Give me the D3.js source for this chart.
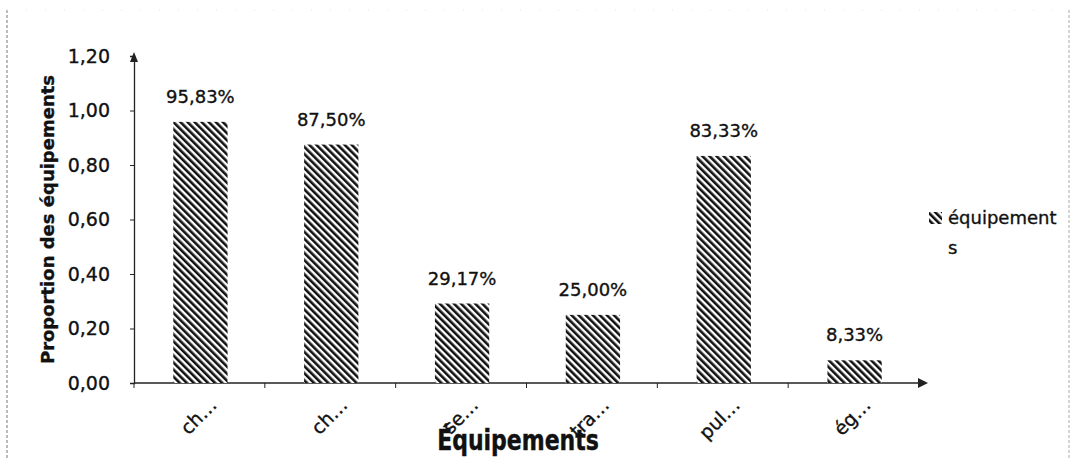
<!DOCTYPE html>
<html>
<head>
<meta charset="utf-8">
<script src="https://cdn.jsdelivr.net/npm/d3@7"></script>
<style>
  html, body { margin: 0; padding: 0; background: #fff; }
  svg { display: block; }
  text { font-family: "DejaVu Sans", sans-serif; fill: #111; stroke: #111; stroke-width: 0.35px; }
</style>
</head>
<body>
<svg id="chart" width="1071" height="459"></svg>
<script>
// ---- data ----
const categories = ["ch…", "ch…", "se…", "tra…", "pul…", "ég…"];
const values = [0.9583, 0.8750, 0.2917, 0.2500, 0.8333, 0.0833];
const valueLabels = ["95,83%", "87,50%", "29,17%", "25,00%", "83,33%", "8,33%"];
const yTicks = [0, 0.2, 0.4, 0.6, 0.8, 1.0, 1.2];
const seriesName = ["équipement", "s"];
const yTitle = "Proportion des équipements";
const xTitle = "Équipements";

const svg = d3.select("#chart");
const W = 1071, H = 459;

// frame (faint scanned border)
svg.append("line").attr("x1", 7).attr("x2", 7).attr("y1", 10).attr("y2", H)
  .attr("stroke", "#777").attr("stroke-width", 1).attr("stroke-dasharray", "3,2");
svg.append("line").attr("x1", 1069).attr("x2", 1069).attr("y1", 10).attr("y2", H)
  .attr("stroke", "#aaa").attr("stroke-width", 1).attr("stroke-dasharray", "3,2");
svg.append("line").attr("x1", 7).attr("x2", 1069).attr("y1", 10).attr("y2", 10)
  .attr("stroke", "#e4e4e4").attr("stroke-width", 1).attr("stroke-dasharray", "1,18");

// hatch pattern
const defs = svg.append("defs");
const pat = defs.append("pattern").attr("id", "hatch")
  .attr("patternUnits", "userSpaceOnUse").attr("width", 5).attr("height", 5)
  .attr("patternTransform", "rotate(-45)");
pat.append("rect").attr("width", 5).attr("height", 5).attr("fill", "#fff");
pat.append("rect").attr("x", 0).attr("width", 2.6).attr("height", 5).attr("fill", "#111");

// scales
const x = d3.scaleBand().domain(d3.range(categories.length))
  .range([135, 920]).paddingInner(0.585).paddingOuter(0.2925);
const y = d3.scaleLinear().domain([0, 1.2]).range([383, 56]);

// y axis
const fmt = d => d3.format(".2f")(d).replace(".", ",");
const yAxis = svg.append("g").attr("transform", "translate(134,0)")
  .call(d3.axisLeft(y).tickValues(yTicks).tickFormat(fmt).tickSize(4).tickPadding(20));
yAxis.select(".domain").attr("stroke", "#222").attr("stroke-width", 1.3);
yAxis.selectAll(".tick line").attr("stroke", "#222");
yAxis.selectAll(".tick text").style("font-size", "19px").attr("fill", "#111")
  .style("font-family", "DejaVu Sans");

// y arrow
svg.append("path")
  .attr("d", `M134,${y(1.2) - 4} L130,${y(1.2) + 6} L138,${y(1.2) + 6} Z`)
  .attr("fill", "#222");

// x axis
const boundaries = d3.range(categories.length + 1).map(i => 135 + i * x.step());
svg.append("line").attr("x1", 134).attr("x2", 922).attr("y1", y(0)).attr("y2", y(0))
  .attr("stroke", "#222").attr("stroke-width", 1.5);
svg.append("g").selectAll("line").data(boundaries.slice(0, -1)).join("line")
  .attr("x1", d => d - 1).attr("x2", d => d - 1)
  .attr("y1", y(0)).attr("y2", y(0) + 5).attr("stroke", "#222");
svg.append("path")
  .attr("d", `M928,${y(0)} L918,${y(0) - 5} L918,${y(0) + 5} Z`).attr("fill", "#222");

// bars
svg.append("g").selectAll("rect").data(values).join("rect")
  .attr("x", (d, i) => x(i))
  .attr("y", d => y(d))
  .attr("width", x.bandwidth())
  .attr("height", d => y(0) - y(d))
  .attr("fill", "url(#hatch)");

// value labels
svg.append("g").selectAll("text").data(values).join("text")
  .attr("x", (d, i) => x(i) + x.bandwidth() / 2)
  .attr("y", d => y(d) - 19)
  .attr("text-anchor", "middle")
  .style("font-size", "18px")
  .text((d, i) => valueLabels[i]);

// category labels (rotated)
svg.append("g").selectAll("text").data(categories).join("text")
  .attr("transform", (d, i) => `translate(${x(i) + x.bandwidth() / 2 + 8},${y(0) + 14}) rotate(-45)`)
  .attr("text-anchor", "end")
  .attr("dy", "0.7em")
  .style("font-size", "19px")
  .text(d => d);

// axis titles
svg.append("text")
  .attr("transform", `translate(54,${(367 + 72) / 2}) rotate(-90)`)
  .attr("text-anchor", "middle")
  .style("font-size", "18px").style("font-weight", "bold")
  .text(yTitle);
svg.append("text")
  .attr("transform", `translate(518,450) scale(1,1.3)`)
  .attr("text-anchor", "middle")
  .style("font-size", "22px").style("font-weight", "bold")
  .text(xTitle);

// legend
svg.append("rect").attr("x", 929).attr("y", 212).attr("width", 13).attr("height", 12)
  .attr("fill", "url(#hatch)");
svg.append("g").selectAll("text").data(seriesName).join("text")
  .attr("x", 948).attr("y", (d, i) => 224 + i * 30)
  .style("font-size", "18px")
  .text(d => d);
</script>
</body>
</html>
